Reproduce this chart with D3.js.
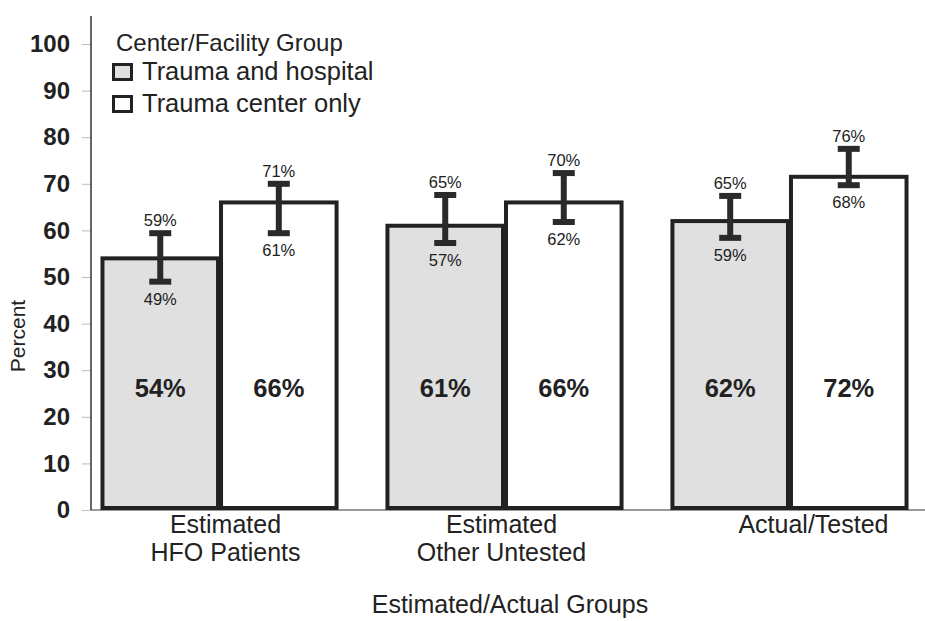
<!DOCTYPE html>
<html><head><meta charset="utf-8">
<script src="https://cdn.jsdelivr.net/npm/d3@7"></script>
<style>body{margin:0;background:#fff}svg{display:block}text{font-family:Arial,"Liberation Sans",sans-serif;fill:#222}</style>
</head><body><svg id="c" width="925" height="621"></svg>
<script>
const groups = ["Estimated\nHFO Patients", "Estimated\nOther Untested", "Actual/Tested"];
const series = ["Trauma and hospital", "Trauma center only"];
const hospital = [54, 61, 62];
const centerOnly = [66, 66, 71.5];
const hospitalLow = [49, 57.3, 58.4];
const hospitalHigh = [59.4, 67.6, 67.4];
const centerLow = [59.4, 61.8, 69.7];
const centerHigh = [70, 72.3, 77.5];
const hospitalLowLabel = ["49%", "57%", "59%"];
const hospitalHighLabel = ["59%", "65%", "65%"];
const centerLowLabel = ["61%", "62%", "68%"];
const centerHighLabel = ["71%", "70%", "76%"];
const valueLabels = [["54%", "66%"], ["61%", "66%"], ["62%", "72%"]];
const yTicks = [0, 10, 20, 30, 40, 50, 60, 70, 80, 90, 100];
const labelOffsets = [6, -3, 24];

const svg = d3.select("#c");
const y = d3.scaleLinear().domain([0, 100]).range([510, 44]);
const x0 = d3.scaleBand().domain(groups).range([91, 918]).paddingInner(0.168).paddingOuter(0.035);
const x1 = d3.scaleBand().domain(series).range([0, x0.bandwidth()]).padding(0);
const fills = ["#e0e0e0", "#ffffff"];

// baseline
svg.append("line").attr("x1", 91).attr("x2", 925).attr("y1", y(0)).attr("y2", y(0)).attr("stroke", "#777").attr("stroke-width", 1.5);

// y axis
const yAxis = d3.axisLeft(y).tickValues(yTicks).tickSize(9).tickPadding(12);
const ga = svg.append("g").attr("transform", "translate(91,0)").call(yAxis);
ga.select(".domain").remove();
ga.selectAll(".tick line").attr("stroke", "#bbb");
ga.selectAll(".tick text").attr("font-size", 24).attr("font-weight", "bold").attr("fill", "#222")
  .style("font-family", "Arial, 'Liberation Sans', sans-serif");
svg.append("line").attr("x1", 91).attr("x2", 91).attr("y1", 16).attr("y2", y(0)).attr("stroke", "#333").attr("stroke-width", 1.5);

// bars
const rows = groups.map((g, i) => ({
  g, i,
  items: [
    {s: series[0], v: hospital[i], lo: hospitalLow[i], hi: hospitalHigh[i], loL: hospitalLowLabel[i], hiL: hospitalHighLabel[i], vl: valueLabels[i][0]},
    {s: series[1], v: centerOnly[i], lo: centerLow[i], hi: centerHigh[i], loL: centerLowLabel[i], hiL: centerHighLabel[i], vl: valueLabels[i][1]}
  ]
}));
const gg = svg.selectAll(".grp").data(rows).join("g").attr("transform", d => `translate(${x0(d.g)},0)`);
const bars = gg.selectAll(".bar").data(d => d.items).join("g");
bars.append("rect")
  .attr("x", d => x1(d.s) + 1.5).attr("width", x1.bandwidth() - 3)
  .attr("y", d => y(d.v)).attr("height", d => y(0) - 2 - y(d.v))
  .attr("fill", (d, j) => fills[j]).attr("stroke", "#222").attr("stroke-width", 4);
const cx = d => x1(d.s) + x1.bandwidth() / 2;
bars.append("line").attr("x1", cx).attr("x2", cx).attr("y1", d => y(d.hi)).attr("y2", d => y(d.lo)).attr("stroke", "#2a2a2a").attr("stroke-width", 6);
bars.append("line").attr("x1", d => cx(d) - 11).attr("x2", d => cx(d) + 11).attr("y1", d => y(d.hi)).attr("y2", d => y(d.hi)).attr("stroke", "#2a2a2a").attr("stroke-width", 6);
bars.append("line").attr("x1", d => cx(d) - 11).attr("x2", d => cx(d) + 11).attr("y1", d => y(d.lo)).attr("y2", d => y(d.lo)).attr("stroke", "#2a2a2a").attr("stroke-width", 6);
bars.append("text").attr("x", cx).attr("y", d => y(d.hi) - 7).attr("text-anchor", "middle").attr("font-size", 16.5).text(d => d.hiL);
bars.append("text").attr("x", cx).attr("y", d => y(d.lo) + 23).attr("text-anchor", "middle").attr("font-size", 16.5).text(d => d.loL);
bars.append("text").attr("x", cx).attr("y", y(24.2)).attr("text-anchor", "middle").attr("font-size", 25.5).attr("font-weight", "bold").text(d => d.vl);

// group labels
gg.each(function(d, i) {
  const lines = d.g.split("\n");
  const t = d3.select(this).append("text").attr("text-anchor", "middle").attr("font-size", 25)
    .attr("x", x0.bandwidth() / 2 + labelOffsets[i]).attr("y", 533);
  lines.forEach((l, k) => t.append("tspan").attr("x", x0.bandwidth() / 2 + labelOffsets[i]).attr("dy", k ? 28 : 0).text(l));
});

// axis titles
svg.append("text").attr("x", 510).attr("y", 613).attr("text-anchor", "middle").attr("font-size", 25).text("Estimated/Actual Groups");
svg.append("text").attr("transform", "translate(25,336) rotate(-90)").attr("text-anchor", "middle").attr("font-size", 21).text("Percent");

// legend
const lg = svg.append("g");
lg.append("text").attr("x", 116).attr("y", 51).attr("font-size", 24).text("Center/Facility Group");
series.forEach((s, i) => {
  lg.append("rect").attr("x", 113.5).attr("y", 64.5 + i * 32).attr("width", 18).attr("height", 15)
    .attr("fill", fills[i]).attr("stroke", "#222").attr("stroke-width", 3);
  lg.append("text").attr("x", 142).attr("y", 80 + i * 32).attr("font-size", 25.5).text(s);
});
</script></body></html>
